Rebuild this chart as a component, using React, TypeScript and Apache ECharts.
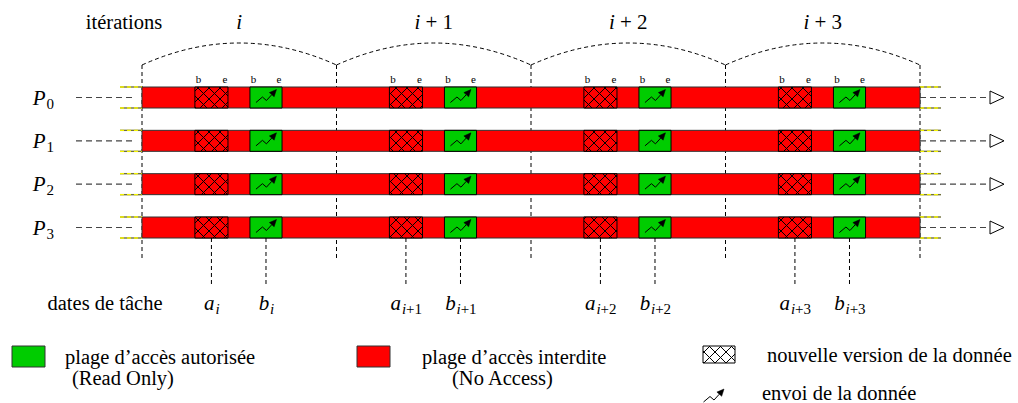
import React, { useEffect, useRef } from 'react';
import * as echarts from 'echarts';

// ---- data ----
const iterationLabels = ['i', 'i+1', 'i+2', 'i+3'];
const iterationStarts = [0, 1, 2, 3];
const iterationBounds = [0, 1, 2, 3, 4];
const processIds = ['0', '1', '2', '3'];
const newVersionWindow = [0.272, 0.442]; // hatched box: b .. e
const sendWindow = [0.555, 0.72]; // green box: b .. e
const boxEndLabels = ['b', 'e'];
const dateLetters = ['a', 'b'];
const legendTexts = [
  ['plage d\u2019acc\u00e8s autoris\u00e9e', '(Read Only)'],
  ['plage d\u2019acc\u00e8s interdite', '(No Access)'],
  ['nouvelle version de la donn\u00e9e'],
  ['envoi de la donn\u00e9e'],
];

const SERIF = '"Liberation Serif", "Times New Roman", serif';
const RED = '#ff0000';
const GREEN = '#00cc00';
const HALF = 10.5;
const FS = 20.5;

function makeHatch() {
  const c = document.createElement('canvas');
  c.width = 11;
  c.height = 11;
  const ctx = c.getContext('2d')!;
  ctx.strokeStyle = '#000';
  ctx.lineWidth = 1;
  ctx.beginPath();
  ctx.moveTo(-1, -1);
  ctx.lineTo(12, 12);
  ctx.moveTo(12, -1);
  ctx.lineTo(-1, 12);
  ctx.stroke();
  return c;
}

export default function App() {
  const ref = useRef<HTMLDivElement>(null);
  useEffect(() => {
    const chart = echarts.init(ref.current!, null, { renderer: 'svg' });
    const hatch = makeHatch();
    const pattern: any = { image: hatch, repeat: 'repeat' };
    const mctx = document.createElement('canvas').getContext('2d')!;
    const tw = (t: string, size: number, italic = false) => {
      mctx.font = `${italic ? 'italic ' : ''}${size}px ${SERIF}`;
      return mctx.measureText(t).width;
    };
    const txt = (x: number, y: number, text: string, size: number, extra: any = {}, align = 'left') => ({
      type: 'text',
      x,
      y,
      silent: true,
      style: {
        text,
        fontFamily: SERIF,
        fontSize: size,
        fill: '#000',
        align,
        textAlign: align,
        verticalAlign: 'middle',
        textVerticalAlign: 'middle',
        ...extra,
      },
    });
    const richSub = (sub: string, size: number) => {
      const first = sub[0];
      const rest = sub.slice(1);
      const italicFirst = /[a-z]/.test(first);
      const text = italicFirst ? `{it|${first}}` + (rest ? `{up|${rest}}` : '') : `{up|${sub}}`;
      const w = italicFirst ? tw(first, size, true) + tw(rest, size) : tw(sub, size);
      return { text, w };
    };
    const mathSub = (cx: number, cy: number, main: string, sub: string, mainSize = 21, subSize = 15) => {
      const wMain = tw(main, mainSize, true);
      const s = richSub(sub, subSize);
      const x0 = cx - (wMain + s.w) / 2;
      return [
        txt(x0, cy, main, mainSize, { fontStyle: 'italic' }),
        {
          type: 'text',
          x: x0 + wMain + 0.8,
          y: cy + 6,
          silent: true,
          style: {
            text: s.text,
            align: 'left',
            textAlign: 'left',
            verticalAlign: 'middle',
            textVerticalAlign: 'middle',
            rich: {
              it: { fontStyle: 'italic', fontSize: subSize, fontFamily: SERIF, fill: '#000' },
              up: { fontSize: subSize, fontFamily: SERIF, fill: '#000' },
            },
          },
        },
      ];
    };
    const sendIcon = (ox: number, oy: number) => [
      {
        type: 'polyline',
        shape: { points: [[ox + 6, oy + 15.5], [ox + 12.5, oy + 10], [ox + 16.5, oy + 13.5], [ox + 21.8, oy + 7.7]] },
        style: { stroke: '#000', fill: null, lineWidth: 1 },
      },
      {
        type: 'polygon',
        shape: { points: [[ox + 26.5, oy + 2.5], [ox + 24.2, oy + 9.8], [ox + 19.4, oy + 5.6]] },
        style: { fill: '#000', stroke: '#000', lineWidth: 0.5 },
      },
    ];

    const lastRow = processIds.length - 1;
    const xEnd = iterationBounds[iterationBounds.length - 1];

    const boxData: number[][] = [];
    processIds.forEach((_, k) => iterationStarts.forEach((s) => boxData.push([s, k])));

    const option: any = {
      animation: false,
      grid: { left: 142, right: 98, top: 0, bottom: 0 },
      xAxis: { type: 'value', min: 0, max: 4, show: false },
      yAxis: { type: 'value', min: -2.25, max: 7.05, inverse: true, show: false },
      series: [
        {
          type: 'custom',
          name: 'separators',
          clip: false,
          silent: true,
          data: iterationBounds.map((b) => [b, 0]),
          renderItem: (_p: any, api: any) => {
            const top = api.coord([api.value(0), 0]);
            const bot = api.coord([api.value(0), lastRow]);
            return {
              type: 'line',
              shape: { x1: top[0], y1: top[1] - 32.5, x2: top[0], y2: bot[1] + 30.5 },
              style: { stroke: '#000', lineWidth: 1, lineDash: [4, 3] },
            };
          },
        },
        {
          type: 'custom',
          name: 'arcs',
          clip: false,
          silent: true,
          data: iterationStarts.map((s) => [s, 0]),
          renderItem: (_p: any, api: any) => {
            const s = api.value(0);
            const a = api.coord([s, 0]);
            const b = api.coord([s + 1, 0]);
            const yb = a[1] - 32.5;
            return {
              type: 'bezierCurve',
              shape: { x1: a[0], y1: yb, x2: b[0], y2: yb, cpx1: (a[0] + b[0]) / 2, cpy1: yb - 44 },
              style: { stroke: '#000', fill: null, lineWidth: 1, lineDash: [4, 3] },
            };
          },
        },
        {
          type: 'custom',
          name: 'headers',
          clip: false,
          silent: true,
          data: iterationStarts.map((s) => [s + 0.5, 0]),
          renderItem: (p: any, api: any) => {
            const c = api.coord([api.value(0), 0]);
            const lab = iterationLabels[p.dataIndex];
            const rest = lab.slice(1).replace('+', ' + ');
            return {
              type: 'text',
              x: c[0],
              y: c[1] - 75.5,
              style: {
                text: `{it|i}` + (rest ? `{up|${rest}}` : ''),
                align: 'center',
                textAlign: 'center',
                verticalAlign: 'middle',
                textVerticalAlign: 'middle',
                rich: {
                  it: { fontStyle: 'italic', fontSize: 21, fontFamily: SERIF, fill: '#000' },
                  up: { fontSize: 21, fontFamily: SERIF, fill: '#000' },
                },
              },
            };
          },
        },
        {
          type: 'custom',
          name: 'processes',
          clip: false,
          silent: true,
          data: processIds.map((_, k) => [0, k]),
          renderItem: (p: any, api: any) => {
            const k = api.value(1);
            const l = api.coord([0, k]);
            const r = api.coord([xEnd, k]);
            const cy = l[1];
            const yel = (x1: number, x2: number, y: number) => [
              { type: 'line', shape: { x1, y1: y, x2, y2: y }, style: { stroke: '#6f6f3a', lineWidth: 1.4 } },
              { type: 'line', shape: { x1, y1: y, x2, y2: y }, style: { stroke: '#f2f200', lineWidth: 1.4, lineDash: [4, 3] } },
            ];
            return {
              type: 'group',
              children: [
                { type: 'line', shape: { x1: l[0] - 66, y1: cy, x2: l[0] - 7, y2: cy }, style: { stroke: '#444', lineWidth: 1.1, lineDash: [6, 4] } },
                ...yel(l[0] - 22, l[0], cy - HALF),
                ...yel(l[0] - 22, l[0], cy + HALF),
                ...yel(r[0], r[0] + 21, cy - HALF),
                ...yel(r[0], r[0] + 21, cy + HALF),
                { type: 'line', shape: { x1: r[0], y1: cy, x2: r[0] + 70, y2: cy }, style: { stroke: '#444', lineWidth: 1.1, lineDash: [6, 4] } },
                {
                  type: 'polygon',
                  shape: { points: [[r[0] + 70, cy - 6.5], [r[0] + 84, cy], [r[0] + 70, cy + 6.5]] },
                  style: { fill: '#fff', stroke: '#000', lineWidth: 1 },
                },
                {
                  type: 'rect',
                  shape: { x: l[0], y: cy - HALF, width: r[0] - l[0], height: 2 * HALF },
                  style: { fill: RED, stroke: '#333', lineWidth: 1 },
                },
                ...mathSub(43, cy, 'P', processIds[p.dataIndex]),
              ],
            };
          },
        },
        {
          type: 'custom',
          name: 'boxes',
          clip: false,
          silent: true,
          data: boxData,
          renderItem: (_p: any, api: any) => {
            const s = api.value(0);
            const k = api.value(1);
            const hL = api.coord([s + newVersionWindow[0], k]);
            const hR = api.coord([s + newVersionWindow[1], k]);
            const gL = api.coord([s + sendWindow[0], k]);
            const gR = api.coord([s + sendWindow[1], k]);
            const cy = hL[1];
            const children: any[] = [
              { type: 'rect', shape: { x: hL[0], y: cy - HALF, width: hR[0] - hL[0], height: 2 * HALF }, style: { fill: RED } },
              {
                type: 'rect',
                shape: { x: hL[0], y: cy - HALF, width: hR[0] - hL[0], height: 2 * HALF },
                style: { fill: pattern, stroke: '#000', lineWidth: 1 },
              },
              {
                type: 'rect',
                shape: { x: gL[0], y: cy - HALF, width: gR[0] - gL[0], height: 2 * HALF },
                style: { fill: GREEN, stroke: '#000', lineWidth: 1 },
              },
              ...sendIcon(gL[0], cy - HALF),
            ];
            if (k === 0) {
              const ly = cy - 18.5;
              children.push(
                txt(hL[0] + 3.5, ly, boxEndLabels[0], 11, {}, 'center'),
                txt(hR[0] - 3, ly, boxEndLabels[1], 11, {}, 'center'),
                txt(gL[0] + 3.5, ly, boxEndLabels[0], 11, {}, 'center'),
                txt(gR[0] - 3, ly, boxEndLabels[1], 11, {}, 'center'),
              );
            }
            return { type: 'group', children };
          },
        },
        {
          type: 'custom',
          name: 'taskDates',
          clip: false,
          silent: true,
          data: iterationStarts.map((s) => [s, lastRow]),
          renderItem: (p: any, api: any) => {
            const s = api.value(0);
            const centers = [
              (newVersionWindow[0] + newVersionWindow[1]) / 2,
              (sendWindow[0] + sendWindow[1]) / 2,
            ];
            const children: any[] = [];
            centers.forEach((c, j) => {
              const pt = api.coord([s + c, lastRow]);
              children.push({
                type: 'line',
                shape: { x1: pt[0], y1: pt[1] + HALF, x2: pt[0], y2: pt[1] + 57.5 },
                style: { stroke: '#000', lineWidth: 1, lineDash: [4, 3] },
              });
              children.push(...mathSub(pt[0], pt[1] + 75, dateLetters[j], iterationLabels[p.dataIndex]));
            });
            return { type: 'group', children };
          },
        },
      ],
      graphic: {
        elements: [
          txt(124, 22, 'it\u00e9rations', FS, {}, 'center'),
          txt(105, 302.5, 'dates de t\u00e2che', FS, {}, 'center'),
          { type: 'rect', shape: { x: 12, y: 346, width: 33, height: 21 }, style: { fill: GREEN, stroke: '#333', lineWidth: 1 } },
          txt(65, 357, legendTexts[0][0], FS),
          txt(72, 378, legendTexts[0][1], FS),
          { type: 'rect', shape: { x: 357, y: 346, width: 33, height: 21 }, style: { fill: RED, stroke: '#333', lineWidth: 1 } },
          txt(422, 357, legendTexts[1][0], FS),
          txt(452, 378, legendTexts[1][1], FS),
          { type: 'rect', shape: { x: 703, y: 346, width: 32, height: 17 }, style: { fill: '#fff' } },
          { type: 'rect', shape: { x: 703, y: 346, width: 32, height: 17 }, style: { fill: pattern, stroke: '#000', lineWidth: 1 } },
          txt(767, 355, legendTexts[2][0], FS),
          ...sendIcon(697.5, 386.5),
          txt(762, 393, legendTexts[3][0], FS),
        ],
      },
    };
    chart.setOption(option);
    return () => chart.dispose();
  }, []);
  return <div ref={ref} style={{ position: 'fixed', left: 0, top: 0, width: 1018, height: 403, background: '#fff' }} />;
}
